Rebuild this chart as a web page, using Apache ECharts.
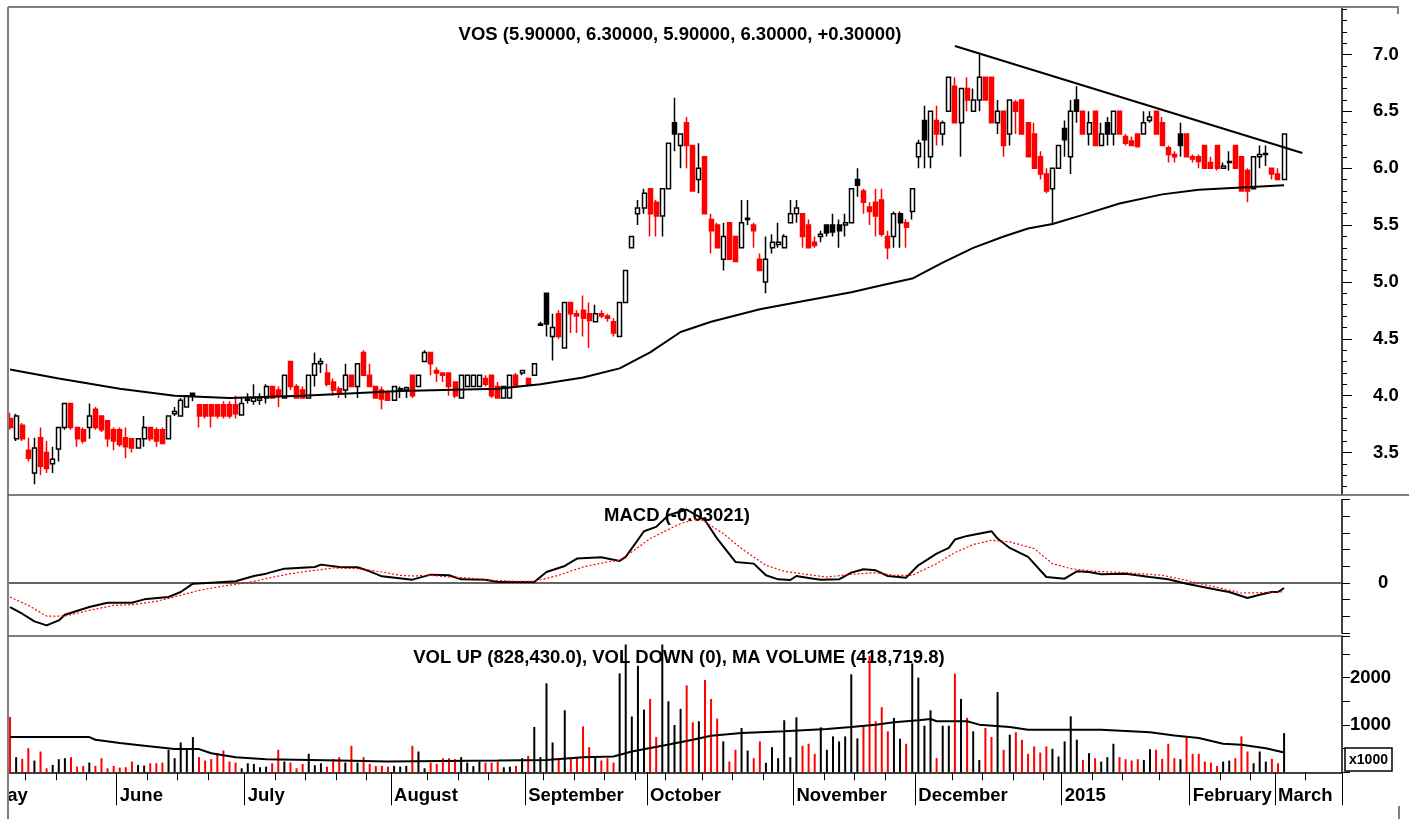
<!DOCTYPE html>
<html>
<head>
<meta charset="utf-8">
<title>VOS</title>
<script src="https://cdn.jsdelivr.net/npm/echarts@6/dist/echarts.min.js"></script>
<style>
  html, body { margin: 0; padding: 0; background: #fff; }
  #chart { width: 1409px; height: 819px; }
</style>
</head>
<body>
<div id="chart"></div>
<script>
// daily bars, [open, close, low, high]
const ohlc = [
  [3.80,3.72,3.70,3.85],[3.62,3.82,3.60,3.84],[3.74,3.62,3.60,3.76],[3.52,3.45,3.42,3.63],[3.32,3.54,3.22,3.63],
  [3.63,3.38,3.30,3.72],[3.50,3.36,3.32,3.60],[3.40,3.44,3.32,3.55],[3.53,3.72,3.42,3.72],[3.72,3.93,3.70,3.93],
  [3.93,3.72,3.70,3.93],[3.72,3.62,3.55,3.72],[3.70,3.60,3.58,3.72],[3.72,3.82,3.62,3.93],[3.88,3.72,3.70,3.90],
  [3.82,3.70,3.68,3.82],[3.78,3.62,3.55,3.78],[3.70,3.60,3.52,3.72],[3.70,3.57,3.55,3.72],[3.63,3.55,3.45,3.72],
  [3.62,3.54,3.50,3.62],[3.54,3.62,3.54,3.62],[3.62,3.72,3.55,3.82],[3.72,3.62,3.60,3.72],[3.70,3.60,3.55,3.72],
  [3.70,3.58,3.58,3.72],[3.62,3.82,3.62,3.82],[3.84,3.86,3.82,3.90],[3.82,3.96,3.82,3.98],[3.90,4.00,3.90,4.00],
  [4.02,4.00,3.95,4.02],[3.92,3.82,3.72,3.92],[3.92,3.82,3.80,3.92],[3.92,3.82,3.72,3.92],[3.92,3.82,3.80,3.92],
  [3.92,3.82,3.80,3.95],[3.92,3.82,3.80,3.95],[3.92,3.84,3.80,4.00],[3.83,3.93,3.83,3.98],[3.96,3.97,3.93,4.02],
  [3.95,3.98,3.92,4.10],[3.96,3.98,3.92,4.02],[3.98,4.08,3.93,4.10],[4.08,3.98,3.98,4.08],[4.05,4.00,3.90,4.08],
  [3.98,4.18,3.98,4.18],[4.30,4.08,4.05,4.30],[4.08,3.98,3.98,4.10],[4.05,3.98,3.98,4.08],[3.98,4.18,3.98,4.18],
  [4.18,4.28,4.08,4.38],[4.28,4.30,4.20,4.33],[4.20,4.10,4.08,4.28],[4.12,4.05,4.00,4.15],[4.06,4.02,3.98,4.08],
  [4.05,4.18,3.98,4.28],[4.18,4.08,4.08,4.18],[4.08,4.28,3.98,4.28],[4.38,4.18,4.18,4.40],[4.18,4.08,4.08,4.28],
  [4.08,3.98,3.98,4.08],[4.05,3.97,3.88,4.08],[4.02,3.96,3.96,4.05],[3.96,4.08,3.96,4.08],[4.05,4.06,3.98,4.08],
  [4.05,4.07,3.98,4.08],[4.18,4.00,3.98,4.18],[4.08,4.18,4.08,4.18],[4.30,4.38,4.30,4.40],[4.38,4.28,4.18,4.38],
  [4.22,4.20,4.12,4.25],[4.20,4.18,4.12,4.20],[4.20,4.08,4.00,4.20],[4.12,4.00,3.98,4.12],[3.98,4.18,3.98,4.18],
  [4.08,4.18,4.08,4.18],[4.08,4.18,4.08,4.18],[4.08,4.18,4.08,4.18],[4.15,4.10,4.08,4.18],[4.18,4.00,3.98,4.18],
  [4.08,3.98,3.98,4.12],[3.98,4.08,3.98,4.08],[3.98,4.18,3.98,4.18],[4.18,4.08,4.08,4.20],[4.20,4.22,4.18,4.22],
  [4.15,4.10,4.08,4.16],[4.18,4.28,4.18,4.28],[4.62,4.63,4.62,4.65],[4.90,4.63,4.52,4.90],[4.52,4.60,4.31,4.72],
  [4.72,4.52,4.50,4.75],[4.42,4.82,4.42,4.82],[4.82,4.72,4.55,4.82],[4.72,4.70,4.55,4.75],[4.75,4.68,4.52,4.88],
  [4.72,4.66,4.42,4.82],[4.65,4.72,4.65,4.80],[4.72,4.70,4.68,4.75],[4.70,4.68,4.65,4.72],[4.65,4.55,4.52,4.68],
  [4.52,4.82,4.52,4.82],[4.82,5.10,4.82,5.10],[5.30,5.40,5.30,5.40],[5.60,5.65,5.50,5.72],[5.65,5.78,5.60,5.82],
  [5.82,5.60,5.40,5.82],[5.70,5.58,5.40,5.72],[5.58,5.82,5.40,5.82],[5.82,6.22,5.82,6.22],[6.40,6.30,6.15,6.62],
  [6.20,6.30,6.00,6.30],[6.40,6.20,6.00,6.45],[6.20,5.80,5.80,6.20],[5.90,6.00,5.78,6.22],[6.10,5.60,5.60,6.10],
  [5.55,5.45,5.25,5.60],[5.50,5.30,5.30,5.52],[5.20,5.40,5.10,5.52],[5.52,5.20,5.20,5.52],[5.40,5.18,5.18,5.40],
  [5.30,5.52,5.30,5.72],[5.55,5.56,5.50,5.72],[5.50,5.45,5.30,5.52],[5.20,5.10,5.10,5.25],[5.00,5.20,4.90,5.40],
  [5.30,5.35,5.25,5.42],[5.33,5.35,5.30,5.52],[5.30,5.40,5.30,5.42],[5.52,5.60,5.52,5.72],[5.60,5.65,5.52,5.72],
  [5.60,5.40,5.30,5.60],[5.50,5.30,5.30,5.55],[5.35,5.32,5.30,5.40],[5.40,5.42,5.35,5.45],[5.50,5.43,5.40,5.50],
  [5.50,5.44,5.40,5.60],[5.50,5.45,5.30,5.55],[5.50,5.52,5.40,5.60],[5.52,5.82,5.52,5.82],[5.90,5.85,5.75,6.00],
  [5.80,5.70,5.60,5.82],[5.66,5.62,5.50,5.70],[5.70,5.58,5.40,5.82],[5.72,5.42,5.40,5.82],[5.40,5.30,5.20,5.45],
  [5.40,5.60,5.30,5.62],[5.60,5.52,5.30,5.62],[5.52,5.48,5.30,5.55],[5.62,5.82,5.55,5.82],[6.10,6.22,6.00,6.25],
  [6.42,6.25,6.00,6.55],[6.10,6.50,6.00,6.50],[6.42,6.30,6.20,6.55],[6.30,6.40,6.20,6.42],[6.50,6.80,6.50,6.80],
  [6.72,6.40,6.40,6.80],[6.40,6.70,6.10,6.70],[6.70,6.60,6.50,6.80],[6.50,6.60,6.50,6.70],[6.60,6.80,6.50,7.00],
  [6.80,6.60,6.60,6.80],[6.80,6.40,6.40,6.80],[6.40,6.50,6.30,6.60],[6.50,6.20,6.10,6.50],[6.30,6.60,6.20,6.60],
  [6.58,6.50,6.30,6.60],[6.60,6.30,6.30,6.60],[6.40,6.10,6.10,6.40],[6.30,6.00,6.00,6.40],[6.10,5.95,5.90,6.15],
  [5.95,5.80,5.78,6.00],[5.82,6.00,5.50,6.00],[6.00,6.20,6.00,6.20],[6.35,6.25,6.10,6.42],[6.10,6.50,5.95,6.60],
  [6.60,6.50,6.40,6.72],[6.50,6.30,6.30,6.50],[6.30,6.40,6.20,6.50],[6.50,6.20,6.20,6.50],[6.20,6.30,6.20,6.40],
  [6.40,6.30,6.20,6.45],[6.30,6.50,6.20,6.50],[6.50,6.30,6.30,6.50],[6.28,6.22,6.20,6.30],[6.24,6.20,6.20,6.28],
  [6.30,6.19,6.18,6.30],[6.30,6.40,6.30,6.50],[6.42,6.45,6.40,6.50],[6.50,6.30,6.30,6.50],[6.40,6.20,6.20,6.45],
  [6.18,6.12,6.05,6.20],[6.12,6.10,6.05,6.15],[6.30,6.20,6.10,6.40],[6.30,6.10,6.10,6.30],[6.10,6.08,6.05,6.12],
  [6.10,6.06,6.00,6.12],[6.20,6.00,6.00,6.20],[6.05,6.00,6.00,6.10],[6.20,6.00,5.98,6.20],[6.00,6.02,6.00,6.05],
  [6.05,6.06,5.98,6.15],[6.20,6.00,6.00,6.20],[6.10,5.80,5.80,6.10],[5.98,5.80,5.70,6.00],[5.82,6.10,5.82,6.10],
  [6.10,6.12,6.00,6.20],[6.12,6.13,6.02,6.20],[6.00,5.95,5.90,6.00],[5.95,5.90,5.90,6.00],[5.90,6.30,5.90,6.30]
];
// down bars drawn black (close still above the previous close)
const blackBodies = [30, 88, 109, 134, 135, 136, 139, 146, 150, 173, 175, 180, 192];

// volume, x1000
const volume = [
  1170,320,284,510,248,440,85,156,277,298, 320,120,135,205,135,298,85,135,100,106,
  227,156,142,191,191,205,475,298,630,475, 745,320,248,277,404,460,227,205,85,191,
  177,106,120,191,475,227,205,85,177,390, 150,
  191,120,277,320,205,560,205,320,177,135, 135,120,135,120,135,560,440,85,205,177,
  298,298,277,320,205, 130,
  227,205,205,227,106,120,135,298,347,957, 320,1880,630,298,1310,298,298,970,530,333, 250,
  298,205,2090,2700,1180,2250,1325,1550,745,2700, 1500,1000,1340,1835,1056,1078,
  1950,1550,1134,652,227,475,936,460,298,652, 200,
  532,298,1100,320,1163,560,603,390, 950,475,759,652,759,2070,716,985,2460,1078,
  1375,865,1150,709,603,2300,2000,985,1310, 300,
  985,985,2085,1550,1150,865,262,936,745,1695,475, 794,844,688,390,546,418,546,496,333,652,
  1184,688,262,404,298,227,320,603,320,277, 250,
  277,262,489,475,284,603,298,277,759,390, 390,227,205,135,227,248,298,759,440,191,
  440,227,284,191,828
];

// [bar index, value]
const priceMA = [[0,4.23],[8,4.15],[18,4.06],[27,4.0],[36,3.98],[48,4.0],[64,4.04],[80,4.06],[87,4.1],[94,4.16],
  [100,4.24],[105,4.38],[110,4.56],[115,4.65],[123,4.76],[130,4.83],[138,4.91],[143,4.97],[148,5.03],[153,5.17],
  [158,5.3],[163,5.4],[167,5.47],[171,5.51],[176,5.59],[182,5.69],[189,5.77],[195,5.81],[202,5.83],[209,5.85]];
const trendLine = [[155, 7.075], [211.6, 6.134]];

const macd = [[0,-0.144],[2,-0.184],[4,-0.23],[6,-0.254],[8,-0.224],[9,-0.19],[13,-0.144],[16,-0.118],[20,-0.118],
  [22,-0.098],[26,-0.084],[28,-0.054],[30,-0.004],[33,0.002],[37,0.01],[40,0.042],[42,0.056],[45,0.086],[50,0.096],
  [51,0.11],[54,0.096],[57,0.094],[59,0.07],[61,0.04],[66,0.02],[69,0.05],[72,0.046],[74,0.022],[78,0.02],[80,0.006],
  [86,0.006],[88,0.066],[91,0.102],[93,0.146],[97,0.154],[100,0.132],[101,0.156],[104,0.31],[106,0.336],[108,0.406],
  [111,0.44],[114,0.376],[116,0.266],[119,0.126],[122,0.116],[124,0.046],[126,0.022],[128,0.018],[129,0.042],
  [131,0.03],[133,0.02],[136,0.022],[138,0.062],[140,0.082],[142,0.076],[144,0.042],[147,0.032],[149,0.106],
  [152,0.176],[154,0.21],[155,0.26],[157,0.282],[161,0.31],[162,0.266],[164,0.21],[167,0.156],[170,0.036],
  [173,0.026],[175,0.07],[177,0.066],[179,0.052],[183,0.056],[187,0.036],[190,0.022],[193,-0.004],[198,-0.04],
  [200,-0.054],[203,-0.09],[205,-0.07],[207,-0.054],[208,-0.054],[209,-0.03]];
const signal = [[0,-0.084],[3,-0.134],[6,-0.198],[9,-0.198],[13,-0.164],[17,-0.134],[20,-0.13],[24,-0.11],
  [28,-0.074],[31,-0.044],[35,-0.018],[39,0.002],[42,0.026],[46,0.056],[50,0.076],[53,0.09],[57,0.086],[61,0.066],
  [64,0.046],[66,0.042],[69,0.046],[72,0.036],[75,0.03],[79,0.016],[83,0.01],[86,0.01],[90,0.046],[94,0.096],
  [98,0.126],[100,0.136],[102,0.186],[105,0.266],[110,0.356],[113,0.386],[114,0.366],[117,0.296],[120,0.206],
  [124,0.106],[127,0.07],[131,0.05],[134,0.036],[138,0.052],[142,0.062],[145,0.046],[148,0.046],[152,0.116],
  [155,0.182],[158,0.23],[161,0.256],[164,0.246],[168,0.206],[171,0.116],[174,0.086],[178,0.07],[183,0.062],
  [187,0.052],[189,0.046],[193,0.016],[196,-0.01],[199,-0.034],[202,-0.06],[205,-0.058],[208,-0.054],[209,-0.05]];

const volumeMA = [[0,745],[13,745],[14,688],[18,617],[22,560],[27,490],[31,490],[33,404],[37,320],[42,277],
  [54,248],[62,227],[80,248],[88,262],[94,320],[99,333],[102,440],[107,560],[112,688],[115,773],[120,830],
  [127,865],[134,915],[138,957],[142,1007],[145,1056],[149,1099],[151,1127],[152,1078],[157,1078],[159,1007],
  [164,957],[167,900],[179,900],[187,844],[191,780],[195,723],[199,603],[202,581],[206,510],[209,419]];

// axis slots (bars start at slot PAD_LEFT)
const monthTicks = [[0,'May'],[21,'June'],[42,'July'],[66,'August'],[88,'September'],[108,'October'],
  [132,'November'],[152,'December'],[176,'2015'],[197,'February'],[211,'March']];
const weekTicks = [6,11,16,26,31,36,47,52,57,62,72,77,82,91,96,101,106,111,117,122,127,137,142,147,
  158,163,168,173,181,186,192,202,207,216];
const priceLabels = [3.5, 4.0, 4.5, 5.0, 5.5, 6.0, 6.5, 7.0];
const volumeLabels = [1000, 2000];

const PAD_LEFT = 3, PAD_RIGHT = 9;
const RED = '#ff0000';
const FONT = "'Liberation Sans', Arial, Helvetica, sans-serif";

const categories = [];
for (let j = 0; j < PAD_LEFT + ohlc.length + PAD_RIGHT; j++) categories.push(String(j));
const monthName = {};
monthTicks.forEach(m => { monthName[m[0]] = m[1]; });
const weekSet = new Set(weekTicks);

const priceMinor = [];
for (let t = 32; t <= 74; t++) priceMinor.push(t / 10);

function isRed(k) {
  const c = ohlc[k];
  return c[1] < c[0] && blackBodies.indexOf(k) < 0;
}

const candleData = ohlc.map((c, k) => {
  let fill = '#fff', stroke = '#000';
  if (c[1] < c[0]) {
    fill = isRed(k) ? RED : '#000';
    stroke = fill;
  }
  return {
    value: [k + PAD_LEFT, c[0], c[1], c[2], c[3]],
    itemStyle: { color: fill, color0: fill, borderColor: stroke, borderColor0: stroke }
  };
});
const volumeData = volume.map((v, k) => ({
  value: [k + PAD_LEFT, v],
  itemStyle: { color: isRed(k) ? RED : '#000' }
}));
const shift = arr => arr.map(p => [p[0] + PAD_LEFT, p[1]]);

const chart = echarts.init(document.getElementById('chart'));

const gridLeft = -11.3, gridRight = 67;
const labelFont = { fontFamily: FONT, fontWeight: 'bold', fontSize: 18.5, color: '#000' };
const titleFont = { fontFamily: FONT, fontWeight: 'bold', fontSize: 18.5, color: '#000' };
const hiddenX = gridIndex => ({
  type: 'category', gridIndex: gridIndex, data: categories, boundaryGap: true,
  axisLine: { show: false }, axisTick: { show: false }, axisLabel: { show: false }, splitLine: { show: false }
});

chart.setOption({
  animation: false,
  backgroundColor: '#fff',
  title: [
    { text: 'VOS (5.90000, 6.30000, 5.90000, 6.30000, +0.30000)', left: 675, top: 20, textAlign: 'center', z: 1,
      textStyle: titleFont },
    { text: 'MACD (-0.03021)', left: 672, top: 501, textAlign: 'center', z: 1, textStyle: titleFont },
    { text: 'VOL UP (828,430.0), VOL DOWN (0), MA VOLUME (418,719.8)', left: 674, top: 643, textAlign: 'center', z: 1,
      textStyle: titleFont }
  ],
  grid: [
    { left: gridLeft, right: gridRight, top: 8, height: 486, outerBoundsMode: 'none', containLabel: false },
    { left: gridLeft, right: gridRight, top: 499.5, height: 133.6, outerBoundsMode: 'none', containLabel: false },
    { left: gridLeft, right: gridRight, top: 636, height: 136.3, outerBoundsMode: 'none', containLabel: false }
  ],
  xAxis: [
    hiddenX(0),
    Object.assign(hiddenX(1), {
      axisLine: { show: true, onZero: true, lineStyle: { color: '#333', width: 1.5 } }
    }),
    {
      type: 'category', gridIndex: 2, data: categories, boundaryGap: true, position: 'bottom',
      axisLine: { show: true, onZero: false, lineStyle: { color: '#000', width: 1.5 } },
      axisTick: { show: true, length: 33, interval: i => monthName[i] !== undefined, lineStyle: { color: '#000', width: 1 } },
      axisLabel: Object.assign({ show: true, interval: i => monthName[i] !== undefined,
        formatter: (v, i) => monthName[i] || '', align: 'left', margin: 14 }, labelFont),
      splitLine: { show: false }
    },
    {
      type: 'category', gridIndex: 2, data: categories, boundaryGap: true, position: 'bottom',
      axisLine: { show: false },
      axisTick: { show: true, length: 8, interval: i => weekSet.has(i), lineStyle: { color: '#000', width: 1 } },
      axisLabel: { show: false }, splitLine: { show: false }
    }
  ],
  yAxis: [
    {
      type: 'value', gridIndex: 0, position: 'right', min: 3.135, max: 7.409,
      axisLine: { show: true, lineStyle: { color: '#000', width: 1.5 } },
      axisTick: { show: true, length: 10, customValues: priceLabels, lineStyle: { color: '#000' } },
      axisLabel: Object.assign({ customValues: priceLabels, formatter: v => v.toFixed(1), margin: 31 }, labelFont),
      splitLine: { show: false }
    },
    {
      type: 'value', gridIndex: 0, position: 'right', min: 3.135, max: 7.409,
      axisLine: { show: false },
      axisTick: { show: true, length: 5, customValues: priceMinor, lineStyle: { color: '#000' } },
      axisLabel: { show: false }, splitLine: { show: false }
    },
    {
      type: 'value', gridIndex: 1, position: 'right', min: -0.3, max: 0.5, interval: 0.1,
      axisLine: { show: true, lineStyle: { color: '#000', width: 1.5 } },
      axisTick: { show: true, length: 8, lineStyle: { color: '#000' } },
      axisLabel: Object.assign({ formatter: v => (Math.abs(v) < 1e-9 ? '0' : ''), margin: 36 }, labelFont),
      splitLine: { show: false }
    },
    {
      type: 'value', gridIndex: 2, position: 'right', min: 0, max: 2880, interval: 500,
      axisLine: { show: true, lineStyle: { color: '#000', width: 1.5 } },
      axisTick: { show: true, length: 8, lineStyle: { color: '#000' } },
      axisLabel: Object.assign({ formatter: v => (volumeLabels.indexOf(v) >= 0 ? String(v) : ''), margin: 8 }, labelFont),
      splitLine: { show: false }
    }
  ],
  series: [
    {
      name: 'VOS', type: 'candlestick', xAxisIndex: 0, yAxisIndex: 0,
      encode: { x: 0, y: [1, 2, 3, 4] },
      barWidth: 4.5,
      itemStyle: { borderWidth: 1.5 },
      data: candleData
    },
    {
      name: 'MA', type: 'line', xAxisIndex: 0, yAxisIndex: 0, showSymbol: false, silent: true,
      lineStyle: { color: '#000', width: 2 }, data: shift(priceMA)
    },
    {
      name: 'Trend', type: 'line', xAxisIndex: 0, yAxisIndex: 0, showSymbol: false, silent: true,
      lineStyle: { color: '#000', width: 2 }, data: shift(trendLine)
    },
    {
      name: 'MACD', type: 'line', xAxisIndex: 1, yAxisIndex: 2, showSymbol: false, silent: true,
      lineStyle: { color: '#000', width: 2 }, data: shift(macd)
    },
    {
      name: 'Signal', type: 'line', xAxisIndex: 1, yAxisIndex: 2, showSymbol: false, silent: true,
      lineStyle: { color: RED, width: 1.2, type: [2, 2] }, data: shift(signal)
    },
    {
      name: 'Volume', type: 'bar', xAxisIndex: 2, yAxisIndex: 3, barWidth: 2,
      data: volumeData
    },
    {
      name: 'MA Volume', type: 'line', xAxisIndex: 2, yAxisIndex: 3, showSymbol: false, silent: true,
      lineStyle: { color: '#000', width: 2 }, data: shift(volumeMA)
    }
  ],
  graphic: [
    { type: 'rect', z: 50, shape: { x: 0, y: 0, width: 8, height: 819 }, style: { fill: '#fff' } },
    { type: 'line', z: 60, shape: { x1: 8, y1: 7, x2: 8, y2: 819 }, style: { stroke: '#808080', lineWidth: 2 } },
    { type: 'polyline', z: 60, shape: { points: [[8, 7], [1398, 7], [1398, 14]] },
      style: { stroke: '#808080', lineWidth: 2, fill: null } },
    { type: 'line', z: 60, shape: { x1: 1399, y1: 806, x2: 1399, y2: 819 }, style: { stroke: '#808080', lineWidth: 2 } },
    { type: 'line', z: 60, shape: { x1: 8, y1: 495, x2: 1409, y2: 495 }, style: { stroke: '#555', lineWidth: 1.5 } },
    { type: 'line', z: 60, shape: { x1: 8, y1: 636, x2: 1342, y2: 636 }, style: { stroke: '#555', lineWidth: 1.5 } },
    { type: 'rect', z: 60, shape: { x: 1345, y: 748, width: 47, height: 23 },
      style: { fill: '#fff', stroke: '#000', lineWidth: 1.5 } },
    { type: 'text', z: 61, x: 1368.5, y: 760,
      style: { text: 'x1000', fontFamily: FONT, fontWeight: 'bold', fontSize: 14, fill: '#000',
        textAlign: 'center', textVerticalAlign: 'middle' } }
  ]
});
</script>
</body>
</html>
